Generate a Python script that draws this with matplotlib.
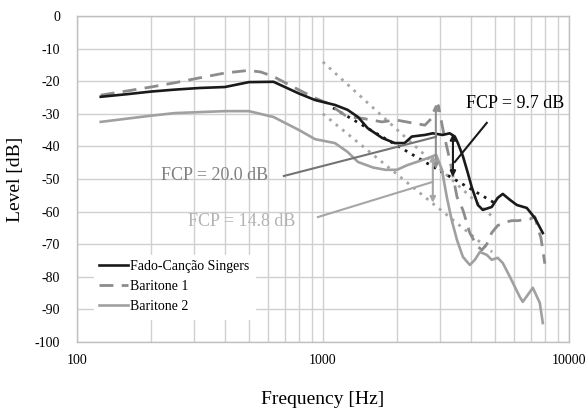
import matplotlib
matplotlib.use("Agg")
import matplotlib.pyplot as plt
from matplotlib.ticker import FixedLocator, NullFormatter

plt.rcParams['font.family'] = ['Liberation Serif', 'DejaVu Serif']
plt.rcParams['axes.unicode_minus'] = False

# Fado-Canção singers (black)
fado_f = [125, 160, 200, 250, 315, 400, 500, 630, 800, 930, 1120, 1260, 1390, 1520,
          1740, 1960, 2150, 2300, 2600, 2800, 3070, 3280, 3440, 3540, 3710, 3880,
          4030, 4270, 4470, 4860, 5140, 5390, 5760, 6150, 6750, 7280, 7840]
fado_db = [-24.8, -24.0, -23.2, -22.6, -22.1, -21.8, -20.3, -20.2, -23.8, -25.8,
           -27.3, -28.8, -31.0, -34.4, -37.4, -39.0, -39.0, -37.0, -36.5, -36.0,
           -36.5, -36.0, -37.0, -39.0, -43.0, -48.0, -52.5, -58.0, -59.5, -58.6,
           -55.8, -54.6, -56.4, -58.0, -58.9, -62.0, -66.6]

# Baritone 1 (dashed grey)
bar1_f = [125, 160, 200, 250, 315, 400, 500, 560, 630, 800, 930, 1040, 1260, 1420,
          1740, 1980, 2300, 2600, 2800, 2950, 3100, 3300, 3510, 3710, 3960, 4230,
          4430, 4640, 4860, 5140, 5500, 5860, 6200, 6940, 7280, 7480, 7700, 7990]
bar1_db = [-24.3, -23.0, -21.8, -20.5, -19.0, -17.5, -16.7, -17.2, -18.6, -22.7,
           -25.2, -26.7, -31.0, -31.3, -32.5, -31.9, -32.8, -33.5, -31.0, -27.5,
           -36.0, -45.0, -55.5, -59.5, -66.6, -70.5, -71.8, -70.0, -66.5, -64.3,
           -63.3, -62.8, -62.8, -62.3, -61.6, -65.0, -68.0, -76.0]

# Baritone 2 (light grey)
bar2_f = [125, 160, 200, 250, 315, 400, 500, 630, 800, 930, 1120, 1260, 1390, 1600,
          1800, 2000, 2200, 2450, 2700, 2890, 3050, 3190, 3340, 3510, 3710, 3960,
          4150, 4350, 4640, 4860, 5140, 5390, 5760, 6320, 6500, 7140, 7620, 7840]
bar2_db = [-32.5, -31.5, -30.6, -29.8, -29.5, -29.2, -29.2, -31.0, -35.0, -37.8,
           -39.0, -41.7, -44.8, -46.5, -47.2, -47.2, -45.8, -44.6, -43.5, -42.6,
           -47.2, -55.5, -62.6, -68.7, -73.9, -76.4, -74.8, -72.4, -73.3, -74.8,
           -74.2, -75.8, -80.0, -86.2, -87.7, -83.4, -88.0, -94.2]

# regression (dotted) lines: start/end points
fado_reg_f = [1100, 5000]
fado_reg_db = [-28.2, -57.4]
bar1_reg_f = [1000, 4910]
bar1_reg_db = [-14.1, -61.7]
bar2_reg_f = [1000, 4880]
bar2_reg_db = [-30.0, -72.4]

# FCP annotations: arrow frequency, top, bottom
fcp_labels = ['FCP = 9.7 dB', 'FCP = 20.0 dB', 'FCP = 14.8 dB']
fcp_f = [3380, 2880, 2800]
fcp_top = [-36.2, -27.0, -42.6]
fcp_bot = [-49.4, -47.0, -57.3]
fcp_text_f = [6030, 364, 469]
fcp_text_db = [-26.8, -48.8, -63.2]
fcp_line_start = [(4640, -32.8), (694, -49.1), (955, -61.7)]
fcp_line_end = [(3440, -44.8), (2880, -37.1), (2800, -50.9)]
fcp_colors = ['#000000', '#808080', '#b3b3b3']
fcp_arrow_colors = ['#1a1a1a', '#909090', '#a6a6a6']
fcp_line_colors = ['#1a1a1a', '#737373', '#a6a6a6']

fig = plt.figure(figsize=(5.87, 4.09), dpi=100)
ax = fig.add_axes([0.131, 0.164, 0.838, 0.797])

ax.set_xscale('log')
ax.set_xlim(100, 10000)
ax.set_ylim(-100, 0)

# regression lines
ax.plot(bar1_reg_f, bar1_reg_db, color='#a6a6a6', ls=(0, (1, 2)), lw=2, zorder=2)
ax.plot(bar2_reg_f, bar2_reg_db, color='#a6a6a6', ls=(0, (1, 2)), lw=2, zorder=2)
ax.plot(fado_reg_f, fado_reg_db, color='#1a1a1a', ls=(0, (1, 2)), lw=2, zorder=2)

# curves
ax.plot(bar2_f, bar2_db, color='#a0a0a0', lw=1.9, label='Baritone 2', zorder=3)
ax.plot(bar1_f, bar1_db, color='#8c8c8c', lw=2.0, ls=(0, (5, 3)), label='Baritone 1', zorder=4)
ax.plot(fado_f, fado_db, color='#1a1a1a', lw=1.9, label='Fado-Canção Singers', zorder=5)

# FCP arrows, pointer lines and labels
for i in range(3):
    ax.annotate('', xy=(fcp_f[i], fcp_bot[i]), xytext=(fcp_f[i], fcp_top[i]),
                arrowprops=dict(arrowstyle='<|-|>', color=fcp_arrow_colors[i], lw=1.5,
                                mutation_scale=8, shrinkA=0, shrinkB=0), zorder=6)
    ax.plot([fcp_line_start[i][0], fcp_line_end[i][0]],
            [fcp_line_start[i][1], fcp_line_end[i][1]],
            color=fcp_line_colors[i], lw=1.5, zorder=6)
    ax.text(fcp_text_f[i], fcp_text_db[i], fcp_labels[i], color=fcp_colors[i],
            fontsize=13, ha='center', va='center', zorder=7)

# grid
ax.xaxis.set_minor_locator(FixedLocator([m * d for d in (100, 1000) for m in range(2, 10)]))
ax.xaxis.set_minor_formatter(NullFormatter())
ax.set_xticks([100, 1000, 10000])
ax.set_xticklabels(['100', '1000', '10000'])
ax.set_yticks(range(-100, 1, 10))
ax.grid(True, which='major', color='#d0d0d0', lw=1.0)
ax.grid(True, which='minor', axis='x', color='#d0d0d0', lw=1.0)
ax.set_axisbelow(True)
for s in ax.spines.values():
    s.set_color('#bfbfbf')
    s.set_linewidth(1.0)
ax.tick_params(which='both', length=0, labelsize=10)
ax.tick_params(axis='y', pad=12)
ax.tick_params(axis='x', pad=9)

ax.set_xlabel('Frequency [Hz]', fontsize=14, labelpad=17)
ax.set_ylabel('Level [dB]', fontsize=14, labelpad=8)

handles, labels = ax.get_legend_handles_labels()
order = [2, 1, 0]
leg = ax.legend([handles[k] for k in order], [labels[k] for k in order],
                loc='lower left', bbox_to_anchor=(0.02, 0.05), fontsize=10,
                handlelength=2.1, handletextpad=0.15, labelspacing=0.5,
                frameon=True, fancybox=False, framealpha=1, edgecolor='white',
                borderpad=0.4)
leg.set_zorder(8)

fig.savefig('out.png', dpi=100)
